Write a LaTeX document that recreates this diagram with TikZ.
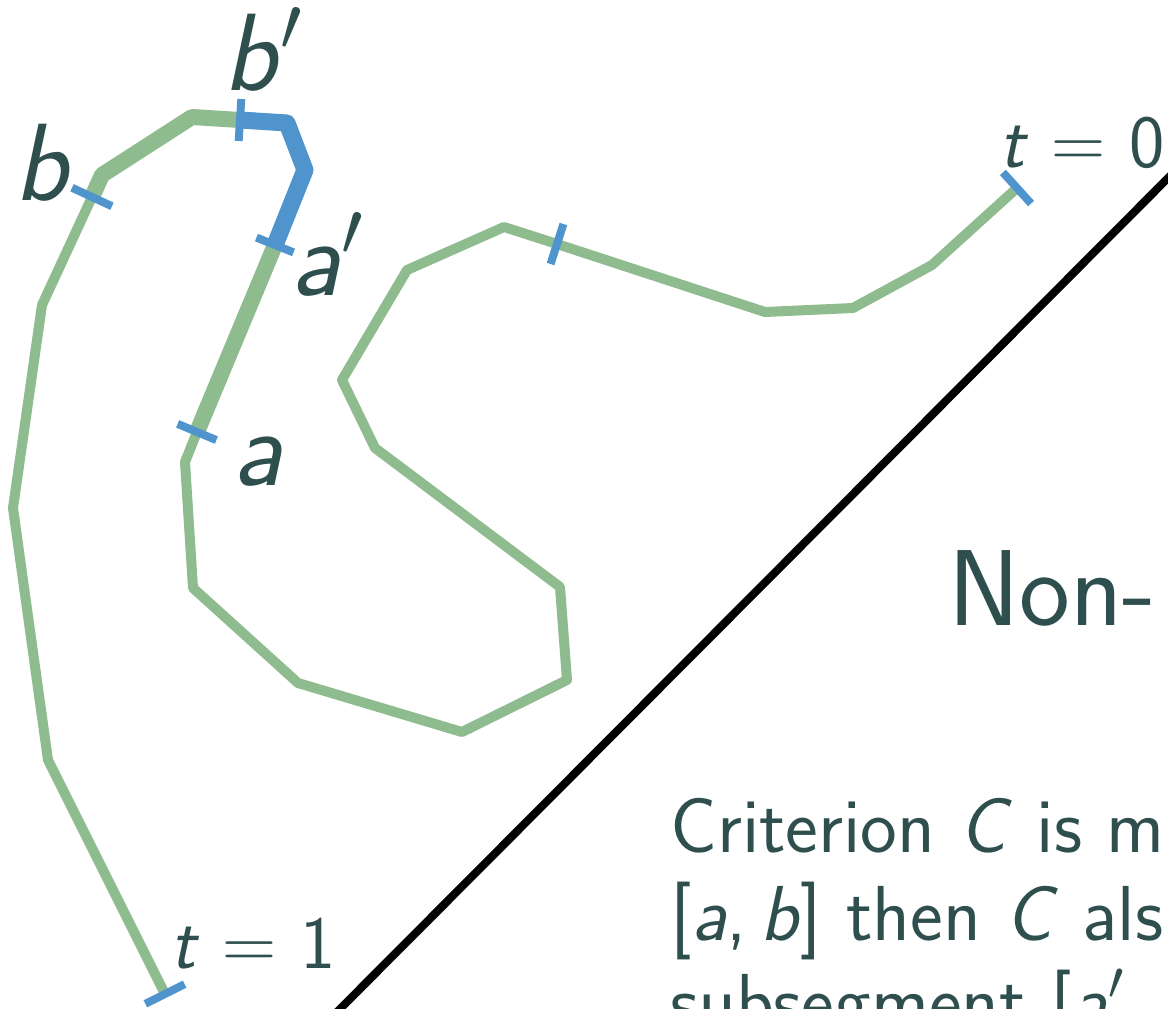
\RequirePackage{fix-cm}
\documentclass[tikz,border=0pt]{standalone}
\usepackage{fontspec}
\usetikzlibrary{calc}
\definecolor{ardoise}{HTML}{2F4F4F}
\definecolor{vert}{HTML}{8FBC8F}
\definecolor{bleu}{HTML}{4F94CD}
\newcommand{\mvar}[1]{\textsf{\slshape #1}}
\begin{document}
\begin{tikzpicture}[x=1pt,y=-1pt]
	% Styles
	\tikzstyle{courbe}=[draw=vert,line width=10pt,line join=round]
	\tikzstyle{epaisse}=[line width=16pt]
	\tikzstyle{segment}=[draw=bleu,line width=17pt,line join=round]
	\tikzstyle{marque}=[draw=bleu,line width=8pt]
	\tikzstyle{separation}=[draw=black,line width=8pt]
	\tikzstyle{etiquette}=[text=ardoise,inner sep=0pt,anchor=base west,font=\fontsize{110}{120}\selectfont\sffamily]
	\tikzstyle{borne}=[etiquette,font=\fontsize{75}{80}\selectfont\sffamily]
	\tikzstyle{titre}=[etiquette,font=\fontsize{108}{120}\selectfont\sffamily]
	\tikzstyle{texte}=[etiquette,font=\fontsize{78}{88}\selectfont\sffamily]
	% Cadre
	\useasboundingbox (0,0) rectangle (1168,1009);
	\clip (0,0) rectangle (1168,1009);
	% Points de la courbe (de t=0 vers t=1)
	\coordinate (T0) at (1017,188);
	\coordinate (C1) at (932,265);
	\coordinate (C2) at (853,308);
	\coordinate (C3) at (765,312);
	\coordinate (M) at (557,244);
	\coordinate (C4) at (504,227);
	\coordinate (C5) at (407,270);
	\coordinate (C6) at (342,380);
	\coordinate (C7) at (375,448);
	\coordinate (C8) at (560,587);
	\coordinate (C9) at (567,680);
	\coordinate (C10) at (462,732);
	\coordinate (C11) at (298,683);
	\coordinate (C12) at (193,588);
	\coordinate (C13) at (185,462);
	\coordinate (A) at (197,432);
	\coordinate (Ap) at (275,245);
	\coordinate (C14) at (305,170);
	\coordinate (C15) at (287,123);
	\coordinate (Bp) at (240,120);
	\coordinate (C16) at (192,117);
	\coordinate (C17) at (102,175);
	\coordinate (B) at (92,197);
	\coordinate (C18) at (42,305);
	\coordinate (C19) at (13,508);
	\coordinate (C20) at (48,760);
	\coordinate (T1) at (165,994);
	% Courbe
	\draw[courbe] (T0)--(C1)--(C2)--(C3)--(M)--(C4)--(C5)--(C6)--(C7)--(C8)--(C9)--(C10)
		--(C11)--(C12)--(C13)--(A)--(Ap)--(C14)--(C15)--(Bp)--(C16)--(C17)--(B)--(C18)
		--(C19)--(C20)--(T1);
	\draw[courbe,epaisse] (A)--(Ap)--(C14)--(C15)--(Bp)--(C16)--(C17)--(B);
	\draw[segment] (Ap)--(C14)--(C15)--(Bp);
	% Marques
	\draw[marque] ($(T0)!21pt!90:(C1)$)--($(T0)!21pt!-90:(C1)$);
	\draw[marque] ($(M)!21pt!90:(C4)$)--($(M)!21pt!-90:(C4)$);
	\draw[marque] ($(A)!21pt!90:(Ap)$)--($(A)!21pt!-90:(Ap)$);
	\draw[marque] ($(Ap)!20pt!90:(C14)$)--($(Ap)!20pt!-90:(C14)$);
	\draw[marque] ($(Bp)!21pt!90:(C16)$)--($(Bp)!21pt!-90:(C16)$);
	\draw[marque] ($(B)!22pt!90:(C18)$)--($(B)!22pt!-90:(C18)$);
	\draw[marque] ($(T1)!22pt!90:(C20)$)--($(T1)!22pt!-90:(C20)$);
	% Separation
	\coordinate (D1) at (330,1019);
	\coordinate (D2) at (1178,168);
	\draw[separation] (D1)--(D2);
	% Etiquettes
	\node[etiquette] (lb) at (14,200) {\mvar{b}};
	\node[etiquette] (lbp) at (223,90) {\mvar{b}$'$};
	\node[etiquette] (lap) at (290,295) {\mvar{a}$'$};
	\node[etiquette] (la) at (232,485) {\mvar{a}};
	\node[borne] (lt0) at (999,167) {\mvar{t} $=$ 0};
	\node[borne] (lt1) at (170,968) {\mvar{t} $=$ 1};
	% Texte
	\node[titre] (titre) at (948,625) {Non-};
	\node[texte] (ligne1) at (670,852) {Criterion \mvar{C} is m};
	\node[texte] (ligne2) at (670,940) {{[}\mvar{a},\,\mvar{b}{]} then \mvar{C} als};
	\node[texte] (ligne3) at (670,1028) {subsegment {[}\mvar{a}$'$};
\end{tikzpicture}
\end{document}
